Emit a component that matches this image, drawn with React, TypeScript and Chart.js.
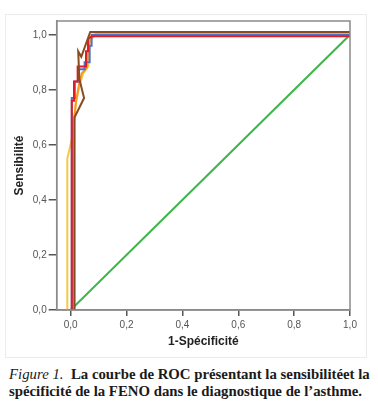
import React, { useEffect, useRef } from "react";
import { Chart, registerables } from "chart.js";

Chart.register(...registerables);

const xTicks = [0, 0.2, 0.4, 0.6, 0.8, 1.0];
const yTicks = [0, 0.2, 0.4, 0.6, 0.8, 1.0];

const blueX = [0.004, 0.004, 0.015, 0.015, 0.03, 0.03, 0.05, 0.05, 0.068, 0.068, 0.075, 0.075, 1.0];
const blueY = [0, 0.77, 0.77, 0.83, 0.83, 0.875, 0.875, 0.9, 0.9, 0.96, 0.96, 1.0, 1.0];

const redX = [0.004, 0.004, 0.012, 0.012, 0.025, 0.025, 0.055, 0.055, 0.062, 0.062, 0.075, 1.0];
const redY = [0, 0.76, 0.76, 0.83, 0.83, 0.885, 0.885, 0.94, 0.94, 0.985, 0.995, 0.995];

const yellowX = [-0.012, -0.012, 0.006, 0.012, 0.022, 0.033, 0.045, 0.063, 0.066, 0.07, 0.09, 1.0];
const yellowY = [0, 0.55, 0.63, 0.7, 0.77, 0.82, 0.86, 0.885, 0.95, 0.98, 1.002, 1.002];

const orangeX = [0.012, 0.012, 0.018, 0.03, 0.04, 0.058, 0.062, 0.068, 0.085, 1.0];
const orangeY = [0, 0.68, 0.75, 0.82, 0.86, 0.88, 0.94, 0.98, 1.0, 1.0];

const brownX = [0.014, 0.014, 0.048, 0.031, 0.027, 0.038, 0.07, 1.0];
const brownY = [0, 0.7, 0.77, 0.84, 0.94, 0.92, 1.01, 1.01];

const refX = [0, 1];
const refY = [0, 1];

const pts = (xs: number[], ys: number[]) => xs.map((x, i) => ({ x, y: ys[i] }));

const boxPlugin = {
  id: "box",
  afterDatasetsDraw(chart: any) {
    const { ctx, chartArea } = chart;
    ctx.save();
    ctx.strokeStyle = "#8a8a8a";
    ctx.lineWidth = 1.5;
    ctx.strokeRect(chartArea.left, chartArea.top, chartArea.right - chartArea.left, chartArea.bottom - chartArea.top);
    ctx.restore();
  },
};

export default function App() {
  const ref = useRef<HTMLCanvasElement>(null);
  useEffect(() => {
    if (!ref.current) return;
    const mk = (label: string, xs: number[], ys: number[], color: string, order: number) => ({
      label,
      data: pts(xs, ys),
      borderColor: color,
      backgroundColor: color,
      borderWidth: 2,
      pointRadius: 0,
      showLine: true,
      tension: 0,
      order,
    });
    const fmt = (v: any) => Number(v).toFixed(1).replace(".", ",");
    const chart = new Chart(ref.current, {
      type: "scatter",
      data: {
        datasets: [
          mk("Référence", refX, refY, "#3db54a", 6),
          mk("A", yellowX, yellowY, "#f6c945", 5),
          mk("B", orangeX, orangeY, "#f59b23", 4),
          mk("C", blueX, blueY, "#5470c6", 3),
          mk("D", redX, redY, "#e31c23", 2),
          mk("E", brownX, brownY, "#8c4b1e", 1),
        ],
      },
      options: {
        animation: false,
        responsive: false,
        maintainAspectRatio: false,
        layout: { padding: { left: 5, top: 21, right: 28, bottom: 0 } },
        plugins: { legend: { display: false }, tooltip: { enabled: false } },
        scales: {
          x: {
            type: "linear",
            min: -0.05,
            max: 1.0,
            afterBuildTicks: (s: any) => {
              s.ticks = xTicks.map((v) => ({ value: v }));
            },
            afterFit: (s: any) => {
              s.height = 40;
            },
            grid: { drawOnChartArea: false, drawTicks: true, tickLength: 6, color: "#555", lineWidth: 1.5 },
            border: { display: true, color: "#8a8a8a", width: 1.5 },
            ticks: {
              callback: fmt,
              color: "#555",
              font: { family: "Liberation Sans", size: 10 },
              padding: 3,
              maxRotation: 0,
            },
            title: {
              display: true,
              text: "1-Spécificité",
              color: "#222",
              font: { family: "Liberation Sans", size: 12, weight: "bold" },
              padding: { top: 0, bottom: 1 },
            },
          },
          y: {
            type: "linear",
            min: 0,
            max: 1.05,
            afterBuildTicks: (s: any) => {
              s.ticks = yTicks.map((v) => ({ value: v }));
            },
            afterFit: (s: any) => {
              s.width = 51.7;
            },
            grid: { drawOnChartArea: false, drawTicks: true, tickLength: 8, color: "#555", lineWidth: 1.5 },
            border: { display: true, color: "#8a8a8a", width: 1.5 },
            ticks: {
              callback: fmt,
              color: "#555",
              font: { family: "Liberation Sans", size: 10 },
              padding: 2,
            },
            title: {
              display: true,
              text: "Sensibilité",
              color: "#222",
              font: { family: "Liberation Sans", size: 12, weight: "bold" },
              padding: { top: 7, bottom: 0 },
            },
          },
        },
      },
      plugins: [boxPlugin],
    } as any);
    return () => chart.destroy();
  }, []);

  return (
    <div style={{ position: "absolute", left: 0, top: 0, width: 378, height: 417, background: "#fff" }}>
      <div
        style={{
          position: "absolute",
          left: 5,
          top: 14,
          width: 362,
          height: 344,
          border: "1px solid #ececec",
          boxSizing: "border-box",
        }}
      />
      <canvas ref={ref} width={378} height={350} style={{ position: "absolute", left: 0, top: 0 }} />
      <div
        style={{
          position: "absolute",
          left: 9,
          top: 366,
          width: 369,
          fontFamily: "'Liberation Serif', serif",
          fontSize: 14.8,
          lineHeight: "17px",
          fontWeight: "bold",
          color: "#1a1a1a",
          whiteSpace: "nowrap",
        }}
      >
        <span style={{ fontStyle: "italic", fontWeight: "normal" }}>Figure 1.</span>
        {"\u00a0 "}La courbe de ROC présentant la sensibilitéet la
        <br />
        spécificité de la FENO dans le diagnostique de l’asthme.
      </div>
    </div>
  );
}
